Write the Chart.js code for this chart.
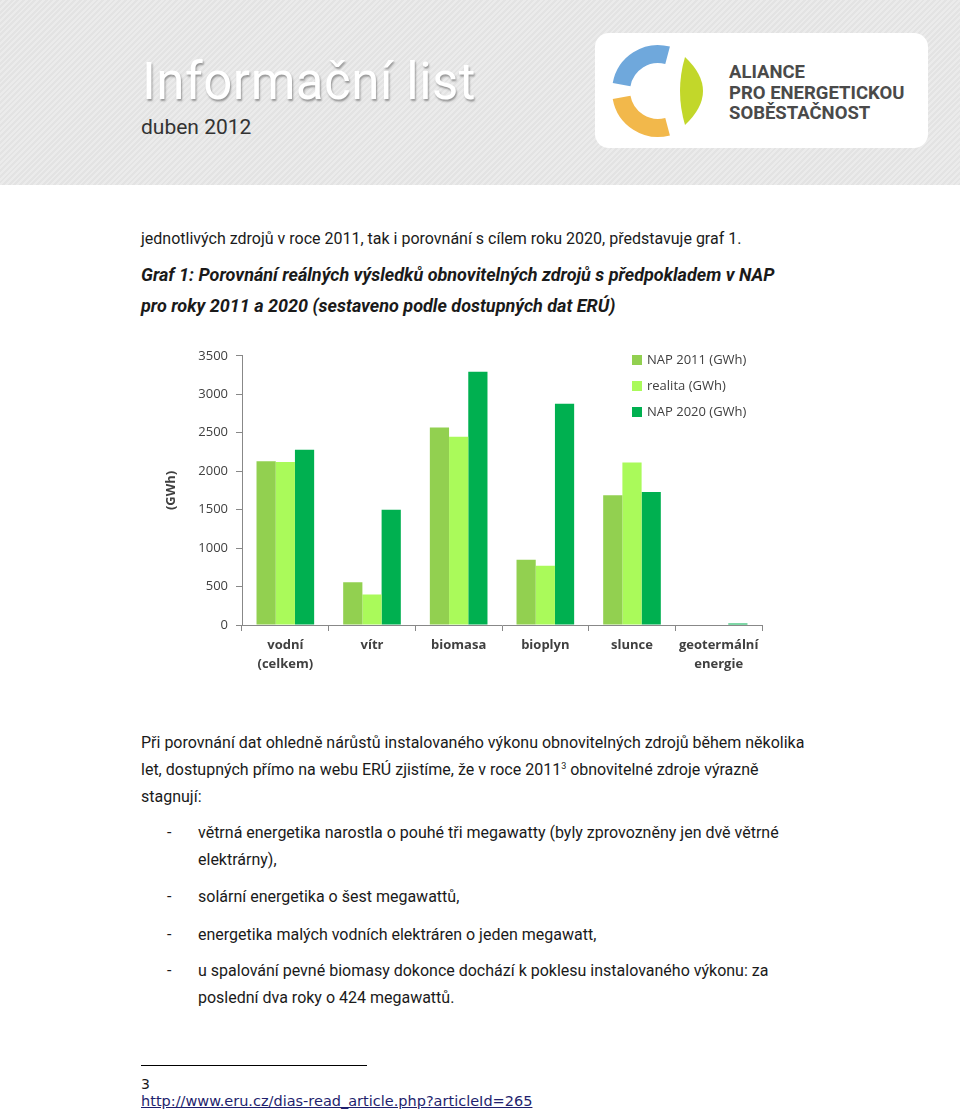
<!DOCTYPE html>
<html lang="cs">
<head>
<meta charset="utf-8">
<title>Informační list – duben 2012</title>
<script src="https://cdn.jsdelivr.net/npm/chart.js@4"></script>
<style>
  html, body { margin: 0; padding: 0; background: #fff; }
  body { width: 960px; height: 1115px; position: relative; overflow: hidden; font-family: Roboto, sans-serif; color: #1a1a1a; }
  .header {
    position: absolute; left: 0; top: 0; width: 960px; height: 185px;
    background: repeating-linear-gradient(135deg, #e3e3e3 0px, #e3e3e3 2px, #ebebeb 2px, #ebebeb 4px);
  }
  .title { position: absolute; left: 142px; top: 51px; font-size: 51px; color: #fff; line-height: 62px;
    text-shadow: 1px 2px 2px rgba(0,0,0,0.35); letter-spacing: 0.5px; }
  .date { position: absolute; left: 141px; top: 113px; font-size: 21px; color: #333; line-height: 28px; }
  .logo { position: absolute; left: 595px; top: 33px; }
  .ln { position: absolute; left: 141px; white-space: nowrap; font-size: 16px; line-height: 20px; }
  .cap { font-weight: bold; font-style: italic; font-size: 18px; }
  .dash { position: absolute; left: 167px; font-size: 16px; line-height: 20px; }
  sup { font-size: 9px; line-height: 0; vertical-align: 6px; }
  .rule { position: absolute; left: 141px; top: 1065px; width: 226px; height: 1px; background: #000; }
  .url { color: #1f1f6e; text-decoration: underline; }
  #chartBox { position: absolute; left: 150px; top: 340px; width: 630px; height: 345px; }
  #legend { position: absolute; left: 632px; top: 349px; font-family: "Open Sans", sans-serif; font-size: 13px; color: #404040; }
  #legend div { height: 26px; line-height: 20px; white-space: nowrap; }
  #legend span.box { display: inline-block; width: 10px; height: 10px; margin-right: 5px; vertical-align: -1px; }
</style>
</head>
<body>
<div class="header">
  <div class="title">Informační list</div>
  <div class="date">duben 2012</div>
  <svg class="logo" width="333" height="115" viewBox="0 0 333 115">
    <rect x="0" y="0" width="333" height="115" rx="14" ry="14" fill="#fff"/>
    <path d="M 26.6 51.6 A 37 37 0 0 1 72.6 22.3" fill="none" stroke="#6fa8dc" stroke-width="18"/>
    <path d="M 72.6 93.7 A 37 37 0 0 1 26.6 64.4" fill="none" stroke="#f2b84b" stroke-width="18"/>
    <path d="M 90 24 Q 126 58 90 92 Q 80 58 90 24 Z" fill="#c2d72a"/>
    <g font-family="Roboto, sans-serif" font-weight="bold" font-size="18.5" fill="#4a4a4a">
      <text x="134" y="45">ALIANCE</text>
      <text x="134" y="66">PRO ENERGETICKOU</text>
      <text x="134" y="86">SOBĚSTAČNOST</text>
    </g>
  </svg>
</div>

<div class="ln" style="top:229px">jednotlivých zdrojů v roce 2011, tak i porovnání s cílem roku 2020, představuje graf 1.</div>
<div class="ln cap" style="top:265px">Graf 1: Porovnání reálných výsledků obnovitelných zdrojů s předpokladem v NAP</div>
<div class="ln cap" style="top:296px">pro roky 2011 a 2020 (sestaveno podle dostupných dat ERÚ)</div>

<div id="chartBox"><canvas id="renewablesChart" width="630" height="345"></canvas></div>
<div id="legend"></div>

<div class="ln" style="top:733px">Při porovnání dat ohledně nárůstů instalovaného výkonu obnovitelných zdrojů během několika</div>
<div class="ln" style="top:760px">let, dostupných přímo na webu ERÚ zjistíme, že v roce 2011<sup>3</sup> obnovitelné zdroje výrazně</div>
<div class="ln" style="top:787px">stagnují:</div>

<div class="dash" style="top:823px">-</div>
<div class="ln" style="top:823px; left:198px">větrná energetika narostla o pouhé tři megawatty (byly zprovozněny jen dvě větrné</div>
<div class="ln" style="top:850px; left:198px">elektrárny),</div>
<div class="dash" style="top:887px">-</div>
<div class="ln" style="top:887px; left:198px">solární energetika o šest megawattů,</div>
<div class="dash" style="top:925px">-</div>
<div class="ln" style="top:925px; left:198px">energetika malých vodních elektráren o jeden megawatt,</div>
<div class="dash" style="top:961px">-</div>
<div class="ln" style="top:961px; left:198px">u spalování pevné biomasy dokonce dochází k poklesu instalovaného výkonu: za</div>
<div class="ln" style="top:988px; left:198px">poslední dva roky o 424 megawattů.</div>

<div class="rule"></div>
<div class="ln" style="top:1074px; font-family:'DejaVu Sans', sans-serif; font-size:14px">3</div>
<div class="ln url" style="top:1091px; font-family:'DejaVu Sans', sans-serif; font-size:14.5px">http://www.eru.cz/dias-read_article.php?articleId=265</div>

<script>
const categories = [['vodní', '(celkem)'], 'vítr', 'biomasa', 'bioplyn', 'slunce', ['geotermální', 'energie']];
const seriesNames = ['NAP 2011 (GWh)', 'realita (GWh)', 'NAP 2020 (GWh)'];
const nap2011 = [2130, 557, 2568, 847, 1686, 0];
const realita = [2120, 398, 2447, 769, 2114, 0];
const nap2020 = [2278, 1500, 3294, 2875, 1729, 18];
const seriesColors = ['#92d050', '#aafa5a', '#00b050'];
const yMax = 3500;
const yStep = 500;

const axisColor = '#888888';
const textColor = '#404040';
const chartFont = { family: '"Open Sans", sans-serif', size: 13 };

const ctx = document.getElementById('renewablesChart').getContext('2d');

const renewablesChart = new Chart(ctx, {
    type: 'bar',
    data: {
        labels: categories,
        datasets: [nap2011, realita, nap2020].map((values, i) => ({
            label: seriesNames[i],
            data: values,
            backgroundColor: seriesColors[i],
            borderWidth: 0,
            categoryPercentage: 0.665,
            barPercentage: 1.0
        }))
    },
    options: {
        responsive: false,
        devicePixelRatio: 1,
        animation: false,
        layout: { padding: { top: 15, right: 18, left: 0, bottom: 0 } },
        plugins: {
            legend: { display: false }, // legenda je v HTML
            tooltip: { enabled: false }
        },
        scales: {
            x: {
                grid: { display: true, drawOnChartArea: false, tickLength: 6, color: axisColor, offset: true },
                border: { display: true, color: axisColor },
                ticks: { color: textColor, font: { ...chartFont, weight: 'bold', lineHeight: 1.45 }, padding: 5, maxRotation: 0, autoSkip: false },
                afterFit: scale => { scale.height = 60; }
            },
            y: {
                min: 0,
                max: yMax,
                grid: { display: true, drawOnChartArea: false, tickLength: 6, color: axisColor },
                border: { display: true, color: axisColor },
                ticks: { stepSize: yStep, color: textColor, font: chartFont, padding: 8, callback: v => String(v) },
                title: {
                    display: true,
                    text: '(GWh)',
                    color: textColor,
                    font: { ...chartFont, weight: 'bold' },
                    padding: { top: 13, bottom: 0 }
                },
                afterFit: scale => { scale.width = 92; }
            }
        }
    }
});

// legenda
const legendEl = document.getElementById('legend');
renewablesChart.data.datasets.forEach(ds => {
    const row = document.createElement('div');
    const box = document.createElement('span');
    box.className = 'box';
    box.style.background = ds.backgroundColor;
    row.appendChild(box);
    row.appendChild(document.createTextNode(ds.label));
    legendEl.appendChild(row);
});
</script>
</body>
</html>
